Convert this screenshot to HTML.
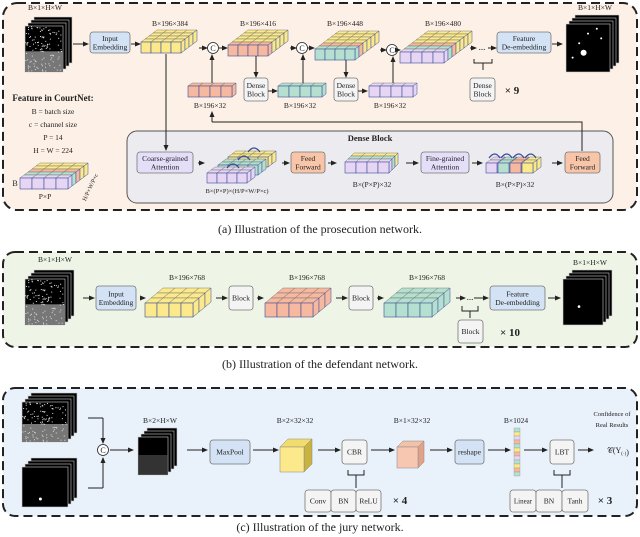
<!DOCTYPE html>
<html><head><meta charset="utf-8"><style>
body{margin:0;background:#fff}
svg{display:block}
text{font-family:"Liberation Serif",serif;fill:#222}
</style></head><body>
<svg id="s" width="640" height="537" viewBox="0 0 640 537" xmlns="http://www.w3.org/2000/svg">
<defs>
<marker id="ar" markerWidth="6" markerHeight="6" refX="5" refY="3" orient="auto" markerUnits="userSpaceOnUse"><path d="M0,0.5 L6,3 L0,5.5z" fill="#222"/></marker>
</defs>
<rect x="3" y="3" width="634" height="207" rx="14" fill="#fdf1e7" stroke="#222" stroke-width="2" stroke-dasharray="9,5"/>
<rect x="3" y="252" width="634" height="95" rx="12" fill="#eef5e6" stroke="#222" stroke-width="2" stroke-dasharray="9,5"/>
<rect x="3" y="388" width="634" height="128" rx="12" fill="#e9f1fa" stroke="#222" stroke-width="2" stroke-dasharray="9,5"/>
<rect x="127" y="131" width="486" height="72" rx="10" fill="#ececf0" stroke="#555" stroke-width="1"/>
<g id="g"></g>
<text x="320" y="233" font-size="12" text-anchor="middle">(a) Illustration of the prosecution network.</text>
<text x="320" y="368" font-size="12" text-anchor="middle">(b) Illustration of the defendant network.</text>
<text x="320" y="531" font-size="12" text-anchor="middle">(c) Illustration of the jury network.</text>
</svg>
<script>
const g=document.getElementById('g');let h='';
const Y='#fbe98c',S='#f6b9a0',G='#b5e0cf',L='#e6d5f3',B='#d3e2f4',E='#4a5fa8';
function t(x,y,s,fs,o){h+=`<text x="${x}" y="${y}" font-size="${fs||8}" text-anchor="middle" ${o||''}>${s}</text>`;}
function box(x,y,w,hh,fill,lines,fs){h+=`<rect x="${x}" y="${y}" width="${w}" height="${hh}" rx="3" fill="${fill}" stroke="#777" stroke-width="0.8"/>`;
 const n=lines.length;lines.forEach((l,i)=>t(x+w/2,y+hh/2+(i-(n-1)/2)*(fs||8)*1.15+ (fs||8)*0.35,l,fs||8));}
function ar(x1,y1,x2,y2){h+=`<line x1="${x1}" y1="${y1}" x2="${x2}" y2="${y2}" stroke="#222" stroke-width="1" marker-end="url(#ar)"/>`;}
function ln(p){h+=`<polyline points="${p}" fill="none" stroke="#222" stroke-width="1"/>`;}
function C(x,y){h+=`<circle cx="${x}" cy="${y}" r="5.5" fill="#fff" stroke="#222" stroke-width="0.8"/>`;t(x,y+3,'C',8);}
function blk(fx,fy,cols,cw,ch,rows,dx,dy,tops,front){
 const sc='#3a4c99';
 for(let j=rows-1;j>=0;j--){for(let i=0;i<cols;i++){const x=fx+i*cw+j*dx,y=fy-j*dy;
  h+=`<polygon points="${x},${y} ${x+cw},${y} ${x+cw+dx},${y-dy} ${x+dx},${y-dy}" fill="${tops[j]}" stroke="#666" stroke-width="0.4"/>`;}}
 for(let j=0;j<rows;j++){const x=fx+cols*cw+j*dx,y=fy-j*dy;
  h+=`<polygon points="${x},${y} ${x+dx},${y-dy} ${x+dx},${y-dy+ch} ${x},${y+ch}" fill="${tops[j]}" stroke="${sc}" stroke-width="0.5"/>`;}
 for(let i=0;i<cols;i++)h+=`<rect x="${fx+i*cw}" y="${fy}" width="${cw}" height="${ch}" fill="${front}" stroke="${sc}" stroke-width="0.6"/>`;
}
function img(x,y,w,hh,n,noise,dot){
 for(let k=n-1;k>=0;k--){const ox=x+k*3,oy=y-k*3;
  h+=`<rect x="${ox}" y="${oy}" width="${w}" height="${hh}" fill="#000" stroke="#ccc" stroke-width="0.6"/>`;}
 if(noise){h+=`<rect x="${x}" y="${y+hh*0.55}" width="${w}" height="${hh*0.45}" fill="#777"/>`;
  let r=7;for(let i=0;i<120;i++){r=(r*9301+49297)%233280;const a=r/233280;r=(r*9301+49297)%233280;const b=r/233280;
   h+=`<rect x="${x+a*(w-1)}" y="${y+b*(hh-1)}" width="1" height="1" fill="#ddd"/>`;}}
 if(dot)dot.forEach(d=>h+=`<circle cx="${x+d[0]*w}" cy="${y+d[1]*hh}" r="${d[2]}" fill="#fff"/>`);
}
// ===== panel a
t(45,10,'B×1×H×W',7.5);img(25,26,38,46,4,true);
ar(73,44,88,44);box(90,32,40,21,B,['Input','Embedding'],7.5);ar(131,44,140,44);
t(170,26,'B×196×384',7.5);blk(141,42,4,10,11,4,4,3,[Y,Y,Y,Y],Y);
ar(199,48,207,48);C(213,48);ar(219,48,227,48);
t(258,26,'B×196×416',7.5);blk(228,45,4,10,11,5,4,3,[S,Y,Y,Y,Y],S);
ar(290,48,296,48);C(302,48);ar(308,48,314,48);
t(345,26,'B×196×448',7.5);blk(315,49,4,10,11,6,4,3,[G,S,Y,Y,Y,Y],G);
ar(380,50,386,50);C(392,50);ar(398,50,400,50);
t(443,26,'B×196×480',7.5);blk(400,52,4,11,11,7,4,3,[L,G,S,Y,Y,Y,Y],L);
ar(470,48,476,48);t(482,50,'...',9);ar(488,48,496,48);
box(497,32,54,21,B,['Feature','De-embedding'],7.5);ar(552,44,562,44);
t(595,10,'B×1×H×W',7.5);img(566,24,44,48,4,false,[[0.4,0.6,3],[0.7,0.1,1],[0.3,0.4,1],[0.8,0.3,1],[0.15,0.7,1],[0.5,0.2,1]]);
ln('474,59 474,63 492,63 492,59');ln('483,63 483,70');
box(470,78,25,23,'#f4f4f4',['Dense','Block'],7.5);t(512,94,'× 9',11,'font-weight="bold"');
blk(188,86,4,11,11,1,4,3,[S],S);t(210,108,'B×196×32',7.5);
ar(256,56,256,77);box(244,78,24,23,'#f4f4f4',['Dense','Block'],7.5);ar(268,91,277,91);
blk(278,86,4,11,11,1,4,3,[G],G);t(300,108,'B×196×32',7.5);
ar(346,60,346,77);box(334,78,24,23,'#f4f4f4',['Dense','Block'],7.5);ar(358,91,367,91);
blk(369,86,4,11,11,1,4,3,[L],L);t(390,108,'B×196×32',7.5);
ar(212,83,212,55);ar(303,83,303,55);ar(393,83,393,57);
ln('582,151 582,122 212,122');ar(212,122,212,112);
ar(166,54,166,150);
t(53,101,'Feature in CourtNet:',9,'font-weight="bold"');
t(53,114,'B = batch size',7.5);t(53,127,'c = channel size',7.5);t(53,140,'P = 14',7.5);t(53,153,'H = W = 224',7.5);
blk(20,178,4,12,11,5,4,3,[L,G,S,Y,Y],L);t(15,186,'B',8);t(45,199,'P×P',7.5);
t(92,188,'H/P×W/P×c',6,'transform="rotate(-65 92 188)"');
t(370,141,'Dense Block',8.5,'font-weight="bold"');
box(137,152,56,21,'#e4def8',['Coarse-grained','Attention'],7.5);ar(198,163,204,163);
blk(228,157,4,10,10,2,4,3,[Y,Y],Y);blk(218,165,4,10,10,2,4,3,[G,G],G);blk(207,173,4,10,10,2,4,3,[L,L],L);
[[248,152],[238,160],[227,168]].forEach(p=>h+=`<path d="M${p[0]},${p[1]} q6,-8 12,0" fill="none" stroke="#3a4c99" stroke-width="1.2"/>`);
t(237,193,'B×(P×P)×(H/P×W/P×c)',6.5);
ar(282,163,289,163);box(291,152,34,21,'#f8c5a8',['Feed','Forward'],7.5);ar(328,163,336,163);
blk(345,162,4,11,11,3,3,3,[L,G,Y],L);t(372,187,'B×(P×P)×32',7.5);
ar(406,163,418,163);box(421,152,48,21,'#e4def8',['Fine-grained','Attention'],7.5);ar(472,163,482,163);
[[486,Y],[498,G],[510,S],[522,Y]].forEach((p,i)=>{const c=[L,G,S,Y][i];blk(p[0],163,1,11,10,2,4,3,[c,c],c);
 h+=`<path d="M${p[0]+3},${158} q6,-8 11,0" fill="none" stroke="#3a4c99" stroke-width="1.2"/>`;});
t(515,187,'B×(P×P)×32',7.5);ar(552,163,562,163);box(565,152,35,21,'#f8c5a8',['Feed','Forward'],7.5);
// ===== panel b
t(55,262,'B×1×H×W',7.5);img(25,279,40,46,4,true);
ar(83,298,94,298);box(96,286,40,24,B,['Input','Embedding'],7.5);ar(140,298,145,298);
t(187,280,'B×196×768',7.5);blk(145,303,4,12,14,3,6,5,[Y,Y,Y],Y);
ar(216,298,227,298);box(229,286,24,24,'#f4f4f4',['Block'],7.5);ar(257,298,263,298);
t(307,280,'B×196×768',7.5);blk(265,303,4,12,14,3,6,5,[S,S,S],S);
ar(336,298,347,298);box(349,286,24,24,'#f4f4f4',['Block'],7.5);ar(377,298,383,298);
t(427,280,'B×196×768',7.5);blk(384,303,4,12,14,3,6,5,[G,G,G],G);
ar(456,298,465,298);t(470,300,'...',9);ar(474,298,488,298);
box(490,286,55,24,B,['Feature','De-embedding'],7.5);ar(548,298,560,298);
t(590,265,'B×1×H×W',7.5);img(563,279,40,46,4,false,[[0.4,0.6,1.3]]);
ln('462,306 462,311 478,311 478,306');ln('470,311 470,318');
box(458,320,25,23,'#f4f4f4',['Block'],7.5);t(510,336,'× 10',11,'font-weight="bold"');
// ===== panel c
img(22,402,46,40,4,true);img(22,467,46,40,4,false,[[0.4,0.8,1.5]]);
ln('88,418 103,418');ar(103,418,103,443);ln('88,488 103,488');ar(103,488,103,458);C(103,450);
ar(110,450,133,450);t(160,423,'B×2×H×W',7.5);
img(138,437,30,38,4,false);h+=`<rect x="138" y="455" width="30" height="20" fill="#555" opacity="0.6"/>`;
ar(187,450,207,450);box(210,440,40,24,B,['MaxPool'],7.5);ar(253,450,278,450);
t(295,423,'B×2×32×32',7.5);
h+=`<polygon points="280,447 288,439 312,439 304,447" fill="#f3dc6c" stroke="#888" stroke-width="0.5"/><polygon points="304,447 312,439 312,464 304,472" fill="#c9b340" stroke="#888" stroke-width="0.5"/><rect x="280" y="447" width="24" height="25" fill="#fbe98c" stroke="#888" stroke-width="0.5"/>`;
ar(318,450,340,450);box(342,440,25,24,'#f4f4f4',['CBR'],7.5);ar(371,450,394,450);
t(412,423,'B×1×32×32',7.5);
h+=`<polygon points="397,447 403,441 424,441 418,447" fill="#f3c1a8" stroke="#888" stroke-width="0.5"/><polygon points="418,447 424,441 424,462 418,468" fill="#e3a287" stroke="#888" stroke-width="0.5"/><rect x="397" y="447" width="21" height="21" fill="#f8c7b1" stroke="#888" stroke-width="0.5"/>`;
ar(430,450,452,450);box(455,440,29,24,B,['reshape'],7.5);ar(488,450,510,450);
t(516,423,'B×1024',7.5);
['#b5e0cf','#fbe98c','#e6d5f3','#f6b9a0','#b5e0cf','#fbe98c','#f6b9a0','#e6d5f3','#b5e0cf','#fbe98c','#f6b9a0','#b5e0cf'].forEach((c,i)=>h+=`<rect x="514" y="${428+i*4}" width="6" height="4" fill="${c}" stroke="#888" stroke-width="0.3"/>`);
ar(524,450,547,450);box(550,440,24,24,'#f4f4f4',['LBT'],7.5);ar(578,450,593,450);
t(618,453,'𝒞(Y<tspan font-size="5" dy="2">(·)</tspan>)',8);
t(612,416,'Confidence of',6.5);t(612,427,'Real Results',6.5);
ln('348,470 348,475 364,475 364,470');ln('356,475 356,488');
box(305,490,26,22,'#f4f4f4',['Conv'],7.5);box(331,490,25,22,'#f4f4f4',['BN'],7.5);box(356,490,25,22,'#f4f4f4',['ReLU'],7.5);
t(400,504,'× 4',11,'font-weight="bold"');
ln('554,470 554,475 570,475 570,470');ln('562,475 562,488');
box(510,490,26,22,'#f4f4f4',['Linear'],7);box(536,490,26,22,'#f4f4f4',['BN'],7.5);box(562,490,26,22,'#f4f4f4',['Tanh'],7.5);
t(605,504,'× 3',11,'font-weight="bold"');
g.innerHTML=h;
</script>
</body></html>
